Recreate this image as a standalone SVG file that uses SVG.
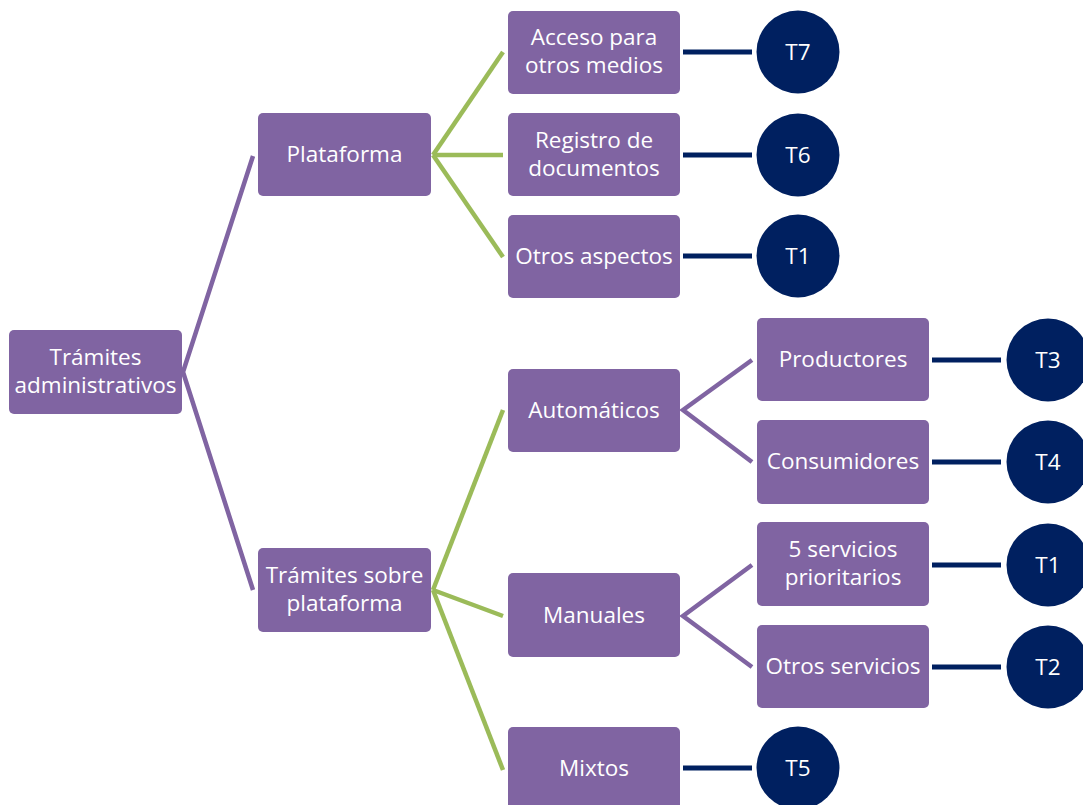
<svg xmlns="http://www.w3.org/2000/svg" width="1083" height="805" viewBox="0 0 1083 805">
  <style>
    .box { fill: #8064A2; }
    .circ { fill: #002060; }
    .lbl { fill: #FFFFFF; font-family: "Open Sans", "Noto Sans", sans-serif; font-size: 22.5px; text-anchor: middle; }
    .purple { stroke: #8064A2; stroke-width: 4.5; fill: none; }
    .green { stroke: #9BBB59; stroke-width: 4.5; fill: none; }
    .navy { stroke: #002060; stroke-width: 5; fill: none; }
  </style>
  <rect width="1083" height="805" fill="#FFFFFF"/>

  <!-- connectors -->
  <g id="connectors">
    <polyline class="purple" points="253,156 183,372 253,590"/>
    <line class="green" x1="433" y1="155" x2="503" y2="52"/>
    <line class="green" x1="433" y1="155" x2="503" y2="155"/>
    <line class="green" x1="433" y1="155" x2="503" y2="257"/>
    <line class="green" x1="433" y1="590" x2="503" y2="410"/>
    <line class="green" x1="433" y1="590" x2="503" y2="616"/>
    <line class="green" x1="433" y1="590" x2="503" y2="770"/>
    <polyline class="purple" points="752,360 683,410 752,462"/>
    <polyline class="purple" points="752,565 683,616 752,667"/>
    <line class="navy" x1="683" y1="52" x2="752" y2="52"/>
    <line class="navy" x1="683" y1="155" x2="752" y2="155"/>
    <line class="navy" x1="683" y1="256" x2="752" y2="256"/>
    <line class="navy" x1="683" y1="768" x2="752" y2="768"/>
    <line class="navy" x1="932" y1="360" x2="1001" y2="360"/>
    <line class="navy" x1="932" y1="462" x2="1001" y2="462"/>
    <line class="navy" x1="932" y1="565" x2="1001" y2="565"/>
    <line class="navy" x1="932" y1="667" x2="1001" y2="667"/>
  </g>

  <!-- boxes -->
  <g id="n-root"><rect class="box" x="9" y="330" width="173" height="84" rx="5"/>
    <text class="lbl" x="95.5" y="365">Trámites</text><text class="lbl" x="95.5" y="393">administrativos</text></g>
  <g id="n-plataforma"><rect class="box" x="258" y="113" width="173" height="83" rx="5"/>
    <text class="lbl" x="344.5" y="162">Plataforma</text></g>
  <g id="n-tramites-plataforma"><rect class="box" x="258" y="548" width="173" height="84" rx="5"/>
    <text class="lbl" x="344.5" y="583">Trámites sobre</text><text class="lbl" x="344.5" y="611">plataforma</text></g>

  <g id="n-acceso"><rect class="box" x="508" y="11" width="172" height="83" rx="5"/>
    <text class="lbl" x="594" y="45">Acceso para</text><text class="lbl" x="594" y="73">otros medios</text></g>
  <g id="n-registro"><rect class="box" x="508" y="113" width="172" height="83" rx="5"/>
    <text class="lbl" x="594" y="148">Registro de</text><text class="lbl" x="594" y="176">documentos</text></g>
  <g id="n-otros-aspectos"><rect class="box" x="508" y="215" width="172" height="83" rx="5"/>
    <text class="lbl" x="594" y="264">Otros aspectos</text></g>
  <g id="n-automaticos"><rect class="box" x="508" y="369" width="172" height="83" rx="5"/>
    <text class="lbl" x="594" y="418">Automáticos</text></g>
  <g id="n-manuales"><rect class="box" x="508" y="573" width="172" height="84" rx="5"/>
    <text class="lbl" x="594" y="623">Manuales</text></g>
  <g id="n-mixtos"><rect class="box" x="508" y="727" width="172" height="84" rx="5"/>
    <text class="lbl" x="594" y="776">Mixtos</text></g>

  <g id="n-productores"><rect class="box" x="757" y="318" width="172" height="83" rx="5"/>
    <text class="lbl" x="843" y="367">Productores</text></g>
  <g id="n-consumidores"><rect class="box" x="757" y="420" width="172" height="84" rx="5"/>
    <text class="lbl" x="843" y="469">Consumidores</text></g>
  <g id="n-5servicios"><rect class="box" x="757" y="522" width="172" height="84" rx="5"/>
    <text class="lbl" x="843" y="557">5 servicios</text><text class="lbl" x="843" y="585">prioritarios</text></g>
  <g id="n-otros-servicios"><rect class="box" x="757" y="625" width="172" height="83" rx="5"/>
    <text class="lbl" x="843" y="674">Otros servicios</text></g>

  <!-- circles -->
  <g id="c-t7"><circle class="circ" cx="798" cy="52" r="41.5"/><text class="lbl" x="798" y="60">T7</text></g>
  <g id="c-t6"><circle class="circ" cx="798" cy="155" r="41.5"/><text class="lbl" x="798" y="163">T6</text></g>
  <g id="c-t1a"><circle class="circ" cx="798" cy="256" r="41.5"/><text class="lbl" x="798" y="264">T1</text></g>
  <g id="c-t5"><circle class="circ" cx="798" cy="768" r="41.5"/><text class="lbl" x="798" y="776">T5</text></g>
  <g id="c-t3"><circle class="circ" cx="1048" cy="360" r="41.5"/><text class="lbl" x="1048" y="368">T3</text></g>
  <g id="c-t4"><circle class="circ" cx="1048" cy="462" r="41.5"/><text class="lbl" x="1048" y="470">T4</text></g>
  <g id="c-t1b"><circle class="circ" cx="1048" cy="565" r="41.5"/><text class="lbl" x="1048" y="573">T1</text></g>
  <g id="c-t2"><circle class="circ" cx="1048" cy="667" r="41.5"/><text class="lbl" x="1048" y="675">T2</text></g>
</svg>
